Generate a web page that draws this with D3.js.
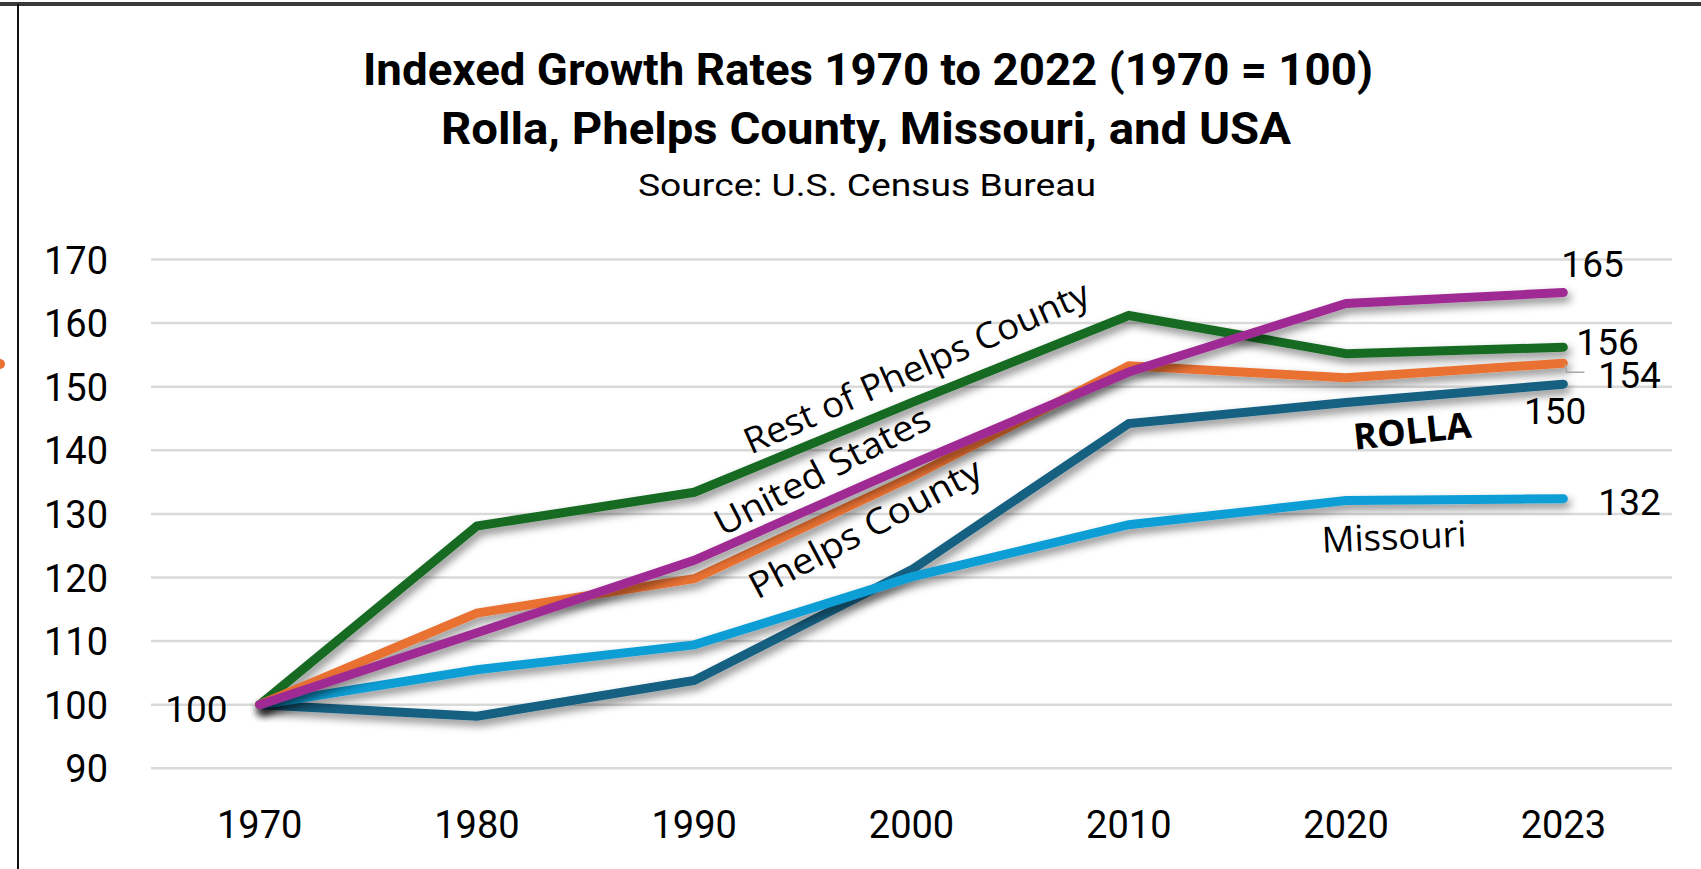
<!DOCTYPE html>
<html>
<head>
<script src="https://cdn.jsdelivr.net/npm/d3@7"></script>
<style>
  body { margin: 0; background: #fff; }
  svg { display: block; font-family: Roboto, "Liberation Sans", sans-serif; }
</style>
</head>
<body>
<div id="viz"></div>
<script>
// data
var years = ["1970", "1980", "1990", "2000", "2010", "2020", "2023"];
var rolla    = [100, 98.2, 103.8, 121.2, 144.2, 147.5, 150.4];
var missouri = [100, 105.5, 109.4, 120.1, 128.3, 132.1, 132.4];
var restOfPhelps = [100, 128.1, 133.4, 147.5, 161.2, 155.2, 156.2];
var phelps   = [100, 114.4, 119.8, 135.8, 153.3, 151.4, 153.7];
var usa      = [100, 111.3, 122.7, 137.8, 152.3, 163.1, 164.8];
var yTicks = [90, 100, 110, 120, 130, 140, 150, 160, 170];

// drawing order = stacking order in the original
var series = [
  {name: "ROLLA", values: rolla, color: "#156082"},
  {name: "Missouri", values: missouri, color: "#0f9ed5"},
  {name: "Rest of Phelps County", values: restOfPhelps, color: "#196b24"},
  {name: "Phelps County", values: phelps, color: "#e97132"},
  {name: "United States", values: usa, color: "#a02b93"}
];

var W = 1701, H = 869;
var svg = d3.select("#viz").append("svg").attr("width", W).attr("height", H);

var defs = svg.append("defs");
var f = defs.append("filter").attr("id", "shadow")
  .attr("x", "-10%").attr("y", "-20%").attr("width", "130%").attr("height", "160%");
f.append("feDropShadow").attr("dx", 3).attr("dy", 5).attr("stdDeviation", 4)
  .attr("flood-color", "#000").attr("flood-opacity", 0.45);

var x = d3.scaleBand().domain(years).range([151, 1672]);
var y = d3.scaleLinear().domain([90, 170]).range([768.3, 259.5]);
var cx = function(i) { return x(years[i]) + x.bandwidth() / 2; };
// fractional index -> pixel, for placing annotations
var xi = d3.scaleLinear().domain([0, years.length - 1]).range([cx(0), cx(years.length - 1)]);

// frame
svg.append("line").attr("x1", 0).attr("x2", W).attr("y1", 4).attr("y2", 4)
  .attr("stroke", "#3a3a3a").attr("stroke-width", 4);
svg.append("line").attr("x1", 18).attr("x2", 18).attr("y1", 4).attr("y2", H)
  .attr("stroke", "#111").attr("stroke-width", 2);
svg.append("circle").attr("cx", 0).attr("cy", 364).attr("r", 5).attr("fill", "#e97132");

// titles
svg.append("text").attr("x", 868).attr("y", 85).attr("text-anchor", "middle")
  .attr("font-size", 45).attr("font-weight", "bold")
  .attr("textLength", 1010).attr("lengthAdjust", "spacingAndGlyphs")
  .text("Indexed Growth Rates 1970 to 2022 (1970 = 100)");
svg.append("text").attr("x", 866).attr("y", 144).attr("text-anchor", "middle")
  .attr("font-size", 45).attr("font-weight", "bold")
  .attr("textLength", 850).attr("lengthAdjust", "spacingAndGlyphs")
  .text("Rolla, Phelps County, Missouri, and USA");
svg.append("text").attr("x", 867).attr("y", 196).attr("text-anchor", "middle")
  .attr("font-size", 31)
  .attr("textLength", 458).attr("lengthAdjust", "spacingAndGlyphs")
  .text("Source:  U.S. Census Bureau");

// gridlines
svg.append("g").selectAll("line").data(yTicks).enter().append("line")
  .attr("x1", 151).attr("x2", 1672)
  .attr("y1", function(d) { return y(d); }).attr("y2", function(d) { return y(d); })
  .attr("stroke", "#d9d9d9").attr("stroke-width", 2.5);

// y axis labels
var yAxis = svg.append("g").attr("transform", "translate(108,0)")
  .call(d3.axisLeft(y).tickValues(yTicks).tickSize(0).tickPadding(0));
yAxis.select(".domain").remove();
yAxis.selectAll("text").attr("font-size", 38).attr("font-family", "Roboto, sans-serif")
  .attr("fill", "#000").attr("dy", "0.36em");

// x axis labels
var xAxis = svg.append("g").attr("transform", "translate(0,838)")
  .call(d3.axisBottom(x).tickSize(0).tickPadding(0));
xAxis.select(".domain").remove();
xAxis.selectAll("text").attr("font-size", 38).attr("font-family", "Roboto, sans-serif")
  .attr("fill", "#000").attr("dy", 0);

// lines
var line = d3.line().x(function(d, i) { return cx(i); }).y(function(d) { return y(d); });
svg.append("g").selectAll("path").data(series).enter().append("path")
  .attr("d", function(d) { return line(d.values); })
  .attr("fill", "none").attr("stroke", function(d) { return d.color; })
  .attr("stroke-width", 9).attr("stroke-linecap", "round").attr("stroke-linejoin", "miter")
  .attr("filter", "url(#shadow)");

// value labels
var last = years.length - 1;
var lab = svg.append("g").attr("font-size", 37);
lab.append("text").attr("x", cx(0) - 32).attr("y", y(100) + 17).attr("text-anchor", "end").text("100");
lab.append("text").attr("x", cx(last) - 2).attr("y", y(usa[last]) - 16).text(Math.round(usa[last]));
lab.append("text").attr("x", cx(last) + 13).attr("y", y(restOfPhelps[last]) + 8).text(Math.round(restOfPhelps[last]));
lab.append("text").attr("x", cx(last) + 35).attr("y", y(phelps[last]) + 25).text(Math.round(phelps[last]));
lab.append("text").attr("x", cx(last) + 23).attr("y", y(rolla[last]) + 40).attr("text-anchor", "end").text(Math.round(rolla[last]));
lab.append("text").attr("x", cx(last) + 35).attr("y", y(missouri[last]) + 16).text(Math.round(missouri[last]));
// leader for 154
svg.append("path")
  .attr("d", "M" + (cx(last) + 2) + "," + (y(phelps[last]) + 1) + "l1,8h18")
  .attr("fill", "none").attr("stroke", "#a6a6a6").attr("stroke-width", 1.5);

// series annotations: [text, index position, value, angle, length, bold]
var notes = [
  ["Rest of Phelps County", 2.26, 139.3, -24, 374, false],
  ["United States", 2.13, 126.4, -27.5, 238, false],
  ["Phelps County", 2.29, 116.5, -28, 258, false],
  ["ROLLA", 5.04, 140.1, -6, 118, true],
  ["Missouri", 4.89, 123.9, -2.5, 145, false]
];
svg.append("g").selectAll("text").data(notes).enter().append("text")
  .attr("transform", function(d) { return "translate(" + xi(d[1]) + "," + y(d[2]) + ") rotate(" + d[3] + ")"; })
  .attr("font-size", 36)
  .attr("font-weight", function(d) { return d[5] ? "bold" : "normal"; })
  .attr("font-family", "'Open Sans', Roboto, sans-serif")
  .attr("textLength", function(d) { return d[4]; })
  .attr("lengthAdjust", "spacingAndGlyphs")
  .text(function(d) { return d[0]; });
</script>
</body>
</html>
